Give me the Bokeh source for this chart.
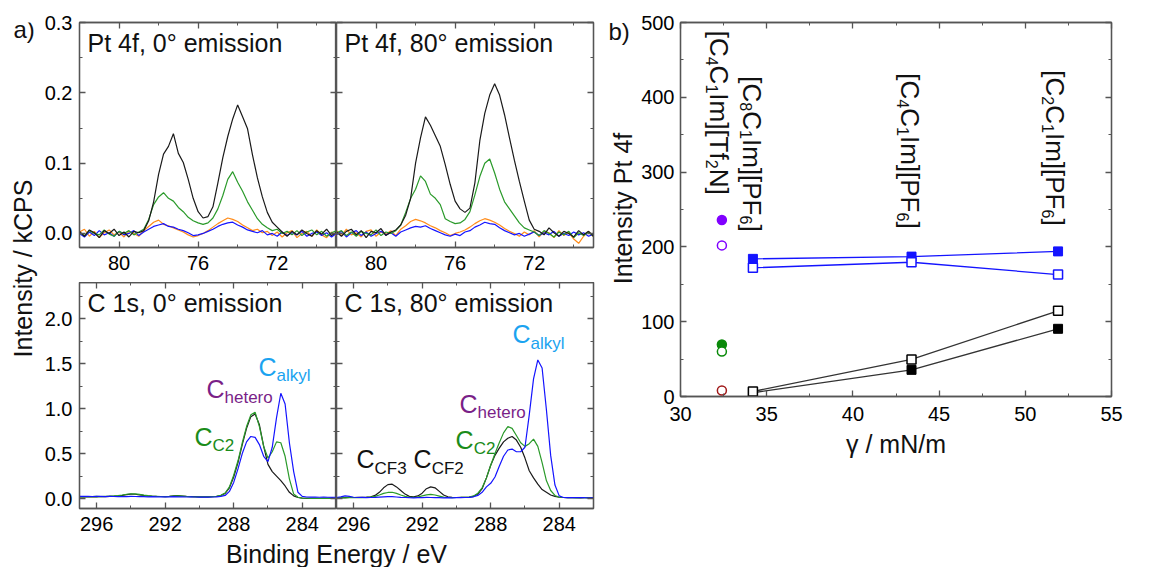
import numpy as np
from bokeh.plotting import figure
from bokeh.models import (Range1d, LinearAxis, SingleIntervalTicker, ColumnDataSource,
                          PrintfTickFormatter, CustomJSTickFormatter)
from bokeh.layouts import row, column
from bokeh.core.properties import value
from bokeh.embed import file_html
from bokeh.resources import INLINE

FONT = "Liberation Sans"
AXC = "#555555"
C_BLACK = "#1a1a1a"
C_GREEN = "#2a9a2a"
C_BLUE = "#1414ff"
C_ORANGE = "#ff8c1a"
K_BASE = 0.34   # compensation of the text baseline placement (fraction of font size)
K_ROT = 0.18    # same, for the labels turned by -90 degrees

# ---------------- panel a data ----------------
pt_energy = np.linspace(82.0, 69.0, 53)
c1s_energy = np.linspace(297.0, 282.0, 61)

pt0_black = [
    0.003, -0.004, 0.005, 0.001, -0.006, 0.004, 0.000, 0.006, -0.003, 0.002,
    -0.005, 0.003, 0.001, 0.004, 0.018, 0.045, 0.084, 0.113, 0.124, 0.142,
    0.114, 0.101, 0.077, 0.050, 0.031, 0.022, 0.024, 0.038, 0.072, 0.108,
    0.138, 0.163, 0.183, 0.166, 0.149, 0.112, 0.079, 0.052, 0.030, 0.016,
    0.009, 0.002, -0.004, 0.003, -0.002, 0.005, 0.000, -0.004, 0.004, -0.001,
    0.006, -0.003, 0.002]
pt0_green = [
    0.001, -0.003, 0.004, 0.000, -0.002, 0.005, -0.001, -0.004, 0.003, 0.000,
    0.004, -0.002, 0.002, 0.006, 0.020, 0.041, 0.052, 0.058, 0.050, 0.046,
    0.037, 0.031, 0.023, 0.018, 0.015, 0.013, 0.015, 0.022, 0.035, 0.054,
    0.077, 0.088, 0.073, 0.060, 0.045, 0.033, 0.021, 0.013, 0.008, 0.004,
    0.006, 0.000, 0.003, -0.002, 0.004, -0.003, 0.002, 0.005, -0.002, 0.003,
    -0.004, 0.001, 0.004]
pt0_blue = [
    0.000, -0.005, 0.002, -0.003, 0.004, -0.002, 0.001, -0.004, 0.003, -0.002,
    0.000, 0.004, -0.003, 0.002, 0.006, 0.010, 0.012, 0.014, 0.010, 0.009,
    0.006, 0.004, 0.001, -0.003, -0.002, 0.000, 0.003, 0.006, 0.010, 0.013,
    0.015, 0.016, 0.012, 0.009, 0.005, 0.003, 0.001, 0.004, -0.002, 0.000,
    -0.004, 0.002, -0.003, 0.001, -0.002, 0.003, -0.004, 0.000, 0.002, -0.003,
    0.001, -0.005, 0.000]
pt0_orange = [
    0.002, 0.006, -0.004, 0.003, -0.006, 0.001, 0.005, -0.002, 0.002, -0.005,
    0.003, 0.000, -0.004, 0.004, 0.010, 0.016, 0.019, 0.013, 0.011, 0.008,
    0.005, 0.002, -0.002, -0.005, -0.003, 0.000, 0.004, 0.009, 0.014, 0.018,
    0.022, 0.020, 0.017, 0.012, 0.008, 0.004, 0.006, 0.001, 0.003, -0.003,
    0.002, -0.005, 0.001, 0.004, -0.006, 0.000, 0.003, -0.004, 0.005, -0.002,
    -0.006, 0.002, -0.003]

pt80_black = [
    0.002, -0.004, 0.003, 0.006, -0.002, 0.004, -0.006, 0.003, 0.001, 0.007,
    -0.003, 0.002, 0.005, 0.012, 0.026, 0.050, 0.100, 0.136, 0.166, 0.154,
    0.139, 0.124, 0.098, 0.070, 0.046, 0.035, 0.030, 0.036, 0.072, 0.132,
    0.171, 0.197, 0.213, 0.197, 0.169, 0.136, 0.104, 0.074, 0.046, 0.019,
    0.006, 0.003, -0.002, 0.008, 0.001, -0.004, 0.003, 0.000, -0.005, 0.004,
    -0.002, 0.003, -0.004]
pt80_green = [
    0.001, 0.004, -0.003, 0.002, -0.004, 0.003, 0.000, -0.002, 0.005, -0.003,
    0.002, 0.000, 0.004, 0.012, 0.030, 0.050, 0.063, 0.082, 0.074, 0.056,
    0.050, 0.041, 0.021, 0.017, 0.014, 0.015, 0.020, 0.031, 0.055, 0.081,
    0.100, 0.106, 0.086, 0.063, 0.045, 0.035, 0.025, 0.015, 0.008, 0.005,
    0.002, -0.003, 0.004, 0.000, -0.005, 0.002, -0.002, 0.003, -0.006, 0.001,
    -0.003, 0.002, -0.004]
pt80_blue = [
    -0.002, 0.003, -0.005, 0.001, 0.004, -0.003, 0.002, -0.004, 0.000, 0.003,
    -0.002, 0.001, -0.004, 0.002, 0.005, 0.008, 0.010, 0.009, 0.011, 0.007,
    0.004, 0.001, -0.002, -0.004, -0.001, -0.003, 0.002, 0.004, 0.009, 0.012,
    0.016, 0.014, 0.013, 0.008, 0.004, 0.001, -0.002, 0.000, -0.004, -0.001,
    0.002, -0.003, 0.001, -0.002, 0.003, -0.004, 0.000, -0.003, 0.002, -0.002,
    0.001, -0.004, -0.001]
pt80_orange = [
    0.004, -0.003, 0.006, -0.002, 0.001, -0.005, 0.003, 0.005, -0.004, 0.002,
    -0.001, 0.004, -0.003, 0.006, 0.011, 0.017, 0.020, 0.018, 0.015, 0.011,
    0.008, 0.004, 0.001, -0.003, 0.000, 0.002, 0.005, 0.009, 0.014, 0.018,
    0.021, 0.019, 0.016, 0.012, 0.007, 0.003, 0.000, -0.004, 0.002, -0.002,
    0.004, -0.005, 0.003, 0.001, -0.006, 0.004, -0.003, 0.002, -0.008, -0.014,
    -0.004, 0.003, -0.005]

c1s0_black = [
    0.020, 0.022, 0.019, 0.021, 0.020, 0.023, 0.022, 0.025, 0.026, 0.030,
    0.036, 0.045, 0.050, 0.048, 0.042, 0.035, 0.030, 0.026, 0.024, 0.023,
    0.022, 0.025, 0.031, 0.034, 0.029, 0.024, 0.022, 0.021, 0.020, 0.019,
    0.020, 0.021, 0.025, 0.034, 0.058, 0.120, 0.240, 0.400, 0.600, 0.780,
    0.910, 0.940, 0.820, 0.580, 0.380, 0.300, 0.250, 0.200, 0.140, 0.070,
    0.030, 0.012, 0.005, 0.003, 0.002, 0.003, 0.001, 0.002, 0.003, 0.001,
    0.002]
c1s0_green = [
    0.022, 0.020, 0.023, 0.021, 0.024, 0.022, 0.025, 0.027, 0.030, 0.034,
    0.040, 0.048, 0.053, 0.052, 0.046, 0.038, 0.032, 0.027, 0.025, 0.023,
    0.022, 0.024, 0.028, 0.030, 0.027, 0.023, 0.021, 0.020, 0.020, 0.019,
    0.020, 0.022, 0.026, 0.036, 0.062, 0.130, 0.260, 0.420, 0.620, 0.800,
    0.930, 0.960, 0.800, 0.580, 0.450, 0.520, 0.630, 0.620, 0.470, 0.220,
    0.050, 0.015, 0.006, 0.004, 0.003, 0.002, 0.004, 0.002, 0.003, 0.002,
    0.003]
c1s0_blue = [
    0.025, 0.024, 0.026, 0.023, 0.025, 0.024, 0.022, 0.024, 0.023, 0.022,
    0.023, 0.022, 0.024, 0.023, 0.021, 0.022, 0.020, 0.021, 0.020, 0.019,
    0.020, 0.019, 0.021, 0.020, 0.019, 0.018, 0.019, 0.018, 0.017, 0.018,
    0.017, 0.018, 0.019, 0.024, 0.035, 0.080, 0.180, 0.330, 0.500, 0.630,
    0.690, 0.680, 0.600, 0.470, 0.410, 0.570, 0.900, 1.170, 1.050, 0.620,
    0.300, 0.070, 0.025, 0.018, 0.016, 0.017, 0.015, 0.016, 0.015, 0.014,
    0.015]

c1s80_black = [
    0.010, 0.012, 0.011, 0.013, 0.012, 0.014, 0.013, 0.016, 0.020, 0.035,
    0.070, 0.120, 0.155, 0.160, 0.130, 0.090, 0.050, 0.025, 0.020, 0.030,
    0.060, 0.110, 0.130, 0.120, 0.080, 0.040, 0.020, 0.015, 0.012, 0.013,
    0.014, 0.016, 0.025, 0.050, 0.110, 0.230, 0.370, 0.480, 0.560, 0.630,
    0.670, 0.690, 0.650, 0.570, 0.450, 0.310, 0.230, 0.160, 0.100, 0.070,
    0.040, 0.025, 0.015, 0.012, 0.010, 0.011, 0.010, 0.009, 0.010, 0.011,
    0.010]
c1s80_green = [
    0.008, 0.010, 0.009, 0.011, 0.010, 0.012, 0.011, 0.013, 0.016, 0.024,
    0.040, 0.058, 0.068, 0.070, 0.058, 0.040, 0.025, 0.015, 0.013, 0.018,
    0.030, 0.042, 0.046, 0.040, 0.028, 0.016, 0.012, 0.011, 0.012, 0.013,
    0.015, 0.018, 0.030, 0.060, 0.120, 0.230, 0.370, 0.500, 0.620, 0.730,
    0.800, 0.780, 0.700, 0.620, 0.580, 0.610, 0.660, 0.580, 0.400, 0.200,
    0.090, 0.035, 0.015, 0.012, 0.010, 0.011, 0.009, 0.010, 0.011, 0.009,
    0.010]
c1s80_blue = [
    0.012, 0.020, 0.030, 0.025, 0.015, 0.012, 0.013, 0.011, 0.012, 0.014,
    0.017, 0.020, 0.022, 0.021, 0.018, 0.014, 0.012, 0.010, 0.009, 0.010,
    0.011, 0.013, 0.012, 0.011, 0.010, 0.009, 0.010, 0.009, 0.010, 0.011,
    0.012, 0.014, 0.020, 0.035, 0.070, 0.130, 0.170, 0.240, 0.360, 0.470,
    0.540, 0.550, 0.520, 0.520, 0.570, 0.930, 1.330, 1.540, 1.450, 0.990,
    0.480, 0.150, 0.030, 0.012, 0.010, 0.011, 0.010, 0.012, 0.010, 0.009,
    0.011]

# peak labels (C + subscript) in panel a
c1s0_label_sub = ["hetero", "alkyl", "C2"]
c1s0_label_x = [289.59, 286.55, 290.29]
c1s0_label_y = [1.12, 1.37, 0.59]
c1s0_label_color = ["#7a1f88", "#1aa3f0", "#1a8c1a"]
c1s80_label_sub = ["CF3", "CF2", "C2", "hetero", "alkyl"]
c1s80_label_x = [295.83, 292.50, 290.05, 289.82, 286.73]
c1s80_label_y = [0.34, 0.34, 0.56, 0.96, 1.73]
c1s80_label_color = ["#111111", "#111111", "#1a8c1a", "#7a1f88", "#1aa3f0"]

# ---------------- panel b data ----------------
gamma_pf6 = [34.2, 43.4, 51.9]
pf6_blue_filled = [184, 187, 194]
pf6_blue_open = [172, 179.5, 163]
pf6_black_open = [6.7, 49.5, 114.5]
pf6_black_filled = [5, 35.6, 90.5]
gamma_tf2n = 32.4
tf2n_values = [236, 202, 69.5, 60, 8]
tf2n_fill = ["#8000ff", "white", "#0a8a0a", "white", "white"]
tf2n_line = ["#8000ff", "#8000ff", "#0a8a0a", "#0a8a0a", "#a01818"]

il_names = ["[C_4C_1Im][Tf_2N]", "[C_8C_1Im][PF_6]", "[C_4C_1Im][PF_6]", "[C_2C_1Im][PF_6]"]
il_label_x = [31.95, 33.9, 43.02, 51.45]
il_label_y = [489, 428, 432, 436]

# ---------------- helpers ----------------
ADV = {'[': 0.278, ']': 0.278, 'C': 0.722, 'I': 0.278, 'm': 0.833, 'T': 0.611,
       'f': 0.278, 'N': 0.722, 'P': 0.667, 'F': 0.611}


def advance(s, size):
    return sum(ADV.get(c, 0.556) for c in s) * size


def parse_parts(name):
    parts, buf, i = [], "", 0
    while i < len(name):
        if name[i] == "_":
            if buf:
                parts.append((buf, False))
                buf = ""
            parts.append((name[i + 1], True))
            i += 2
        else:
            buf += name[i]
            i += 1
    if buf:
        parts.append((buf, False))
    return parts


def style_axis(ax, labels=True, fs="20px", standoff=8, fmt=None):
    ax.axis_line_color = AXC
    ax.axis_line_width = 1.3
    ax.major_tick_line_color = AXC
    ax.minor_tick_line_color = AXC
    ax.major_tick_line_width = 1.3
    ax.minor_tick_line_width = 1.0
    ax.major_tick_in = 6
    ax.major_tick_out = 0
    ax.minor_tick_in = 3
    ax.minor_tick_out = 0
    ax.major_label_text_font = FONT
    ax.major_label_text_color = "#000000"
    if labels:
        ax.major_label_text_font_size = fs
        ax.major_label_standoff = standoff
        if fmt:
            ax.formatter = PrintfTickFormatter(format=fmt)
    else:
        ax.formatter = CustomJSTickFormatter(code="return ''")
        ax.major_label_text_font_size = "1px"
        ax.major_label_standoff = 0


def make_panel(xr, yr, xint, yint, w, h, borders, xlabels, ylabels, fs="20px", yfmt=None):
    l, r, t, b = borders
    p = figure(width=w, height=h, x_range=Range1d(*xr), y_range=Range1d(*yr),
               output_backend="svg", toolbar_location=None,
               min_border_left=l, min_border_right=r, min_border_top=t, min_border_bottom=b)
    p.title.visible = False
    bottom = p.below[0]
    left = p.left[0]
    bottom.ticker = SingleIntervalTicker(interval=xint, num_minor_ticks=2)
    left.ticker = SingleIntervalTicker(interval=yint, num_minor_ticks=2)
    style_axis(bottom, xlabels, fs, 8)
    style_axis(left, ylabels, fs, 7, yfmt)
    top = LinearAxis(ticker=SingleIntervalTicker(interval=xint, num_minor_ticks=2))
    right = LinearAxis(ticker=SingleIntervalTicker(interval=yint, num_minor_ticks=2))
    style_axis(top, False)
    style_axis(right, False)
    p.add_layout(top, "above")
    p.add_layout(right, "right")
    p.grid.visible = False
    p.outline_line_color = AXC
    p.outline_line_width = 1.3
    p.background_fill_color = "white"
    p.border_fill_color = "white"
    return p


def add_title(p, text, fs=25):
    p.text(x=[p.x_range.start], y=[p.y_range.end], text=[text], x_offset=8,
           y_offset=29 - K_BASE * fs,
           text_font=value(FONT), text_font_size=f"{fs}px", text_color="#111111",
           text_align="left", text_baseline="alphabetic")


def add_peak_labels(p, subs, xs, ys, colors, big=25, small=17, drop=6):
    data = dict(x=[], y=[], text=[], xo=[], yo=[], fs=[], c=[])
    for s, x, y, c in zip(subs, xs, ys, colors):
        data["x"] += [x, x]
        data["y"] += [y, y]
        data["text"] += ["C", s]
        data["xo"] += [0, advance("C", big)]
        data["yo"] += [-K_BASE * big, drop - K_BASE * small]
        data["fs"] += [f"{big}px", f"{small}px"]
        data["c"] += [c, c]
    src = ColumnDataSource(data)
    p.text(x="x", y="y", text="text", x_offset="xo", y_offset="yo", text_font_size="fs",
           text_color="c", text_font=value(FONT), text_align="left",
           text_baseline="alphabetic", source=src)


# ---------------- panel a ----------------
PT_X = (82, 69)
PT_Y = (-0.02, 0.3003)
C1_X = (297, 282)
C1_Y = (-0.11, 2.4)

tl = make_panel(PT_X, PT_Y, 4, 0.1, 296, 282, (39, 0, 22, 35), True, True, yfmt="%.1f")
tr = make_panel(PT_X, PT_Y, 4, 0.1, 264, 282, (0, 7, 22, 35), True, False)
bl = make_panel(C1_X, C1_Y, 4, 0.5, 296, 258, (39, 0, 0, 32), True, True, yfmt="%.1f")
br = make_panel(C1_X, C1_Y, 4, 0.5, 264, 258, (0, 7, 0, 32), True, False)

for p, ys in ((tl, (pt0_orange, pt0_blue, pt0_green, pt0_black)),
              (tr, (pt80_orange, pt80_blue, pt80_green, pt80_black))):
    for y, c in zip(ys, (C_ORANGE, C_BLUE, C_GREEN, C_BLACK)):
        p.line(pt_energy, y, line_color=c, line_width=1.2)

for p, ys in ((bl, (c1s0_black, c1s0_green, c1s0_blue)),
              (br, (c1s80_black, c1s80_green, c1s80_blue))):
    for y, c in zip(ys, (C_BLACK, C_GREEN, C_BLUE)):
        p.line(c1s_energy, y, line_color=c, line_width=1.2)

add_title(tl, "Pt 4f, 0° emission")
add_title(tr, "Pt 4f, 80° emission")
add_title(bl, "C 1s, 0° emission")
add_title(br, "C 1s, 80° emission")
add_peak_labels(bl, c1s0_label_sub, c1s0_label_x, c1s0_label_y, c1s0_label_color)
add_peak_labels(br, c1s80_label_sub, c1s80_label_x, c1s80_label_y, c1s80_label_color)


def blank_fig(w, h, top=0, bottom=0):
    p = figure(width=w, height=h, x_range=Range1d(0, w), y_range=Range1d(0, h - top - bottom),
               output_backend="svg", toolbar_location=None,
               x_axis_location=None, y_axis_location=None, min_border=0,
               min_border_top=top, min_border_bottom=bottom)
    p.title.visible = False
    p.outline_line_color = None
    p.grid.visible = False
    p.background_fill_color = "white"
    p.border_fill_color = "white"
    return p


# strips share the top/bottom borders of panel b (frame spans page y 22..396)
B_TOP, B_BOTTOM = 22, 171
FRAME_H = 567 - B_TOP - B_BOTTOM


def strip_text(p, x, y, text, fs, angle=0.0, align="left"):
    p.text(x=[x], y=[y], text=[text], angle=angle, text_font=value(FONT),
           text_font_size=f"{fs}px", text_color="#111111", text_align=align,
           text_baseline="alphabetic")


left_strip = blank_fig(40, 567, B_TOP, B_BOTTOM)
strip_text(left_strip, 13, FRAME_H - 15 + K_BASE * 24, "a)", 24)
strip_text(left_strip, 32 - K_BASE * 25 - 1, FRAME_H - 246, "Intensity / kCPS", 25,
           angle=np.pi / 2, align="center")

bottom_strip = blank_fig(560, 29)
strip_text(bottom_strip, 296, 7 + K_BASE * 25, "Binding Energy / eV", 25, align="center")

right_strip = blank_fig(38, 567, B_TOP, B_BOTTOM)
strip_text(right_strip, 8, FRAME_H - 17 + K_BASE * 24, "b)", 24)
strip_text(right_strip, 32 - K_BASE * 25 - 1, FRAME_H - 186, "Intensity Pt 4f", 25,
           angle=np.pi / 2, align="center")

# ---------------- panel b ----------------
pb = make_panel((30, 55), (0, 500), 5, 100, 519, 567, (38, 46, B_TOP, B_BOTTOM), True, True)
xb = pb.below[0]
yb = pb.left[0]
xb.major_label_standoff = 10
yb.major_label_standoff = 6
xb.axis_label = "γ / mN/m"
xb.axis_label_text_font = FONT
xb.axis_label_text_font_size = "25px"
xb.axis_label_text_font_style = "normal"
xb.axis_label_text_color = "#111111"
xb.axis_label_standoff = 6

pb.line(gamma_pf6, pf6_blue_filled, line_color=C_BLUE, line_width=1.3)
pb.line(gamma_pf6, pf6_blue_open, line_color=C_BLUE, line_width=1.3)
pb.line(gamma_pf6, pf6_black_open, line_color="#333333", line_width=1.3)
pb.line(gamma_pf6, pf6_black_filled, line_color="#333333", line_width=1.3)
pb.scatter(gamma_pf6, pf6_blue_filled, marker="square", size=9, fill_color=C_BLUE, line_color=C_BLUE)
pb.scatter(gamma_pf6, pf6_blue_open, marker="square", size=9, fill_color="white",
           line_color=C_BLUE, line_width=1.5)
pb.scatter(gamma_pf6, pf6_black_filled, marker="square", size=9, fill_color="black", line_color="black")
pb.scatter(gamma_pf6, pf6_black_open, marker="square", size=9, fill_color="white",
           line_color="black", line_width=1.5)
pb.scatter(x=[gamma_tf2n] * len(tf2n_values), y=tf2n_values, marker="circle", size=9,
           fill_color=tf2n_fill, line_color=tf2n_line, line_width=1.5)

# rotated compound labels with subscripts
BIG, SMALL, DROP = 26, 16, 5
lab = dict(x=[], y=[], text=[], xo=[], yo=[], fs=[])
for name, x, y in zip(il_names, il_label_x, il_label_y):
    off = 0.0
    for s, sub in parse_parts(name):
        size = SMALL if sub else BIG
        lab["x"].append(x)
        lab["y"].append(y)
        lab["text"].append(s)
        lab["xo"].append((-DROP if sub else 0) + K_ROT * size)
        lab["yo"].append(off)
        lab["fs"].append(f"{size}px")
        off += advance(s, size)
pb.text(x="x", y="y", text="text", x_offset="xo", y_offset="yo", text_font_size="fs",
        angle=-np.pi / 2, text_font=value(FONT), text_color="#111111",
        text_align="left", text_baseline="alphabetic", source=ColumnDataSource(lab))

layout = row(left_strip, column(row(tl, tr), row(bl, br), bottom_strip), right_strip, pb)
open("out.html", "w").write(file_html(layout, INLINE, "chart"))
